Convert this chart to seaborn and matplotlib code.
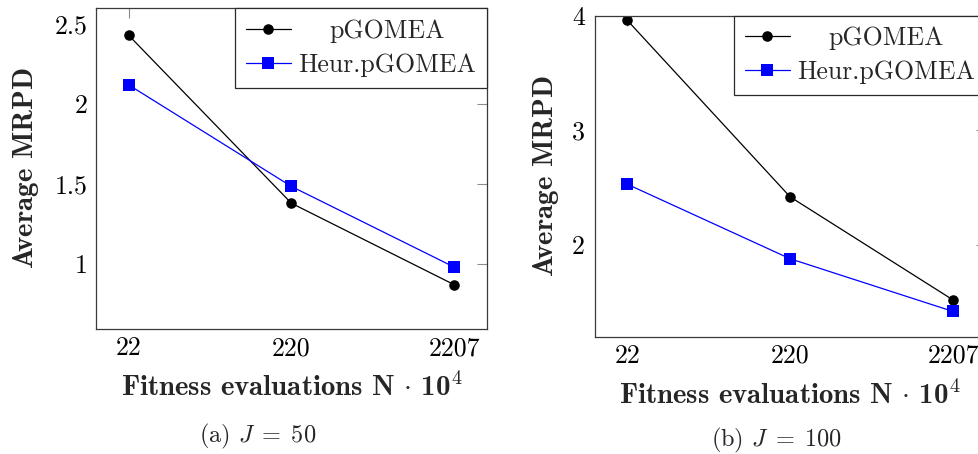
import matplotlib
matplotlib.use("Agg")
import matplotlib.pyplot as plt
from matplotlib.ticker import NullLocator, FixedLocator, FixedFormatter
import seaborn as sns
import pandas as pd

# Fitness evaluation budgets (N * 10^4)
evaluations = [22, 220, 2207]
eval_labels = ["22", "220", "2207"]
methods = ["pGOMEA", "Heur.pGOMEA"]

# Average MRPD, J = 50
pgomea_j50 = [2.43, 1.38, 0.87]
heur_j50 = [2.12, 1.485, 0.98]

# Average MRPD, J = 100
pgomea_j100 = [3.96, 2.42, 1.52]
heur_j100 = [2.53, 1.88, 1.42]

yticks_j50 = [1, 1.5, 2, 2.5]
ytick_labels_j50 = ["1", "1.5", "2", "2.5"]
yticks_j100 = [2, 3, 4]
ytick_labels_j100 = ["2", "3", "4"]

captions = [r"(a) $J\;=\;50$", r"(b) $J\;=\;100$"]

sns.set_style("white")
plt.rcParams["font.family"] = "cmr10"
plt.rcParams["mathtext.fontset"] = "cm"
plt.rcParams["axes.unicode_minus"] = False
plt.rcParams["axes.formatter.use_mathtext"] = True

FS = 18.6        # tick labels and legend
FS_BOLD = 20.8   # axis titles
W, H = 979, 454
fig = plt.figure(figsize=(W / 100, H / 100), dpi=100)

palette = {"pGOMEA": "black", "Heur.pGOMEA": "#0000ff"}
markers = {"pGOMEA": "o", "Heur.pGOMEA": "s"}


def panel(rect, pg, heur, yticks, ylabels, ylim, ylab_x, ytick_pad, xtick_pad):
    ax = fig.add_axes(rect)
    df = pd.DataFrame({
        "evals": evaluations * 2,
        "mrpd": pg + heur,
        "method": [methods[0]] * 3 + [methods[1]] * 3,
    })
    sns.lineplot(data=df, x="evals", y="mrpd", hue="method", style="method",
                 palette=palette, markers=markers, dashes=False,
                 markersize=7.6, markeredgewidth=0, linewidth=0.9,
                 sort=False, legend=False, ax=ax)
    # squares drawn a touch larger than the circles
    ax.get_lines()[1].set_markersize(8.2)

    ax.set_xscale("log")
    ax.set_xlim(evaluations[0] / 10 ** 0.2, evaluations[-1] * 10 ** 0.2)
    ax.xaxis.set_major_locator(FixedLocator(evaluations))
    ax.xaxis.set_major_formatter(FixedFormatter(eval_labels))
    ax.xaxis.set_minor_locator(NullLocator())
    ax.set_ylim(*ylim)
    ax.set_yticks(yticks)
    ax.set_yticklabels(ylabels)

    for s in ax.spines.values():
        s.set_visible(True)
        s.set_color("#3a3a3a")
        s.set_linewidth(0.9)
    ax.tick_params(direction="in", top=True, right=True, length=7.2,
                   width=0.8, color="#8c8c8c", labelsize=FS, labelcolor="black")
    ax.tick_params(axis="y", pad=ytick_pad)
    ax.tick_params(axis="x", pad=xtick_pad)

    ax.set_xlabel(r"Fitness evaluations N$\,\cdot\,$10$^{\mathbf{4}}$",
                  fontfamily="cmb10", fontsize=FS_BOLD, va="baseline")
    ax.xaxis.set_label_coords(0.5, -0.209)
    ax.set_ylabel(r"A$\!$verage MRPD", fontfamily="cmb10", fontsize=FS_BOLD,
                  va="baseline")
    ax.yaxis.set_label_coords(ylab_x, 0.5)

    handles = ax.get_lines()[:2]
    leg = ax.legend(handles, methods, loc="upper right", bbox_to_anchor=(1.0, 1.0),
                    borderaxespad=0.0, fontsize=FS, frameon=True, fancybox=False,
                    framealpha=1.0, edgecolor="#2a2a2a", handlelength=1.75,
                    handletextpad=0.28, labelspacing=0.4, borderpad=0.42)
    leg.get_frame().set_linewidth(0.9)
    return ax, leg


ax1, leg1 = panel([96 / W, (H - 329) / H, 391 / W, 321 / H],
                  pgomea_j50, heur_j50, yticks_j50, ytick_labels_j50,
                  (0.594, 2.6), -0.161, 5.8, 5.5)
ax2, leg2 = panel([594.7 / W, (H - 336.7) / H, 391 / W, 321 / H],
                  pgomea_j100, heur_j100, yticks_j100, ytick_labels_j100,
                  (1.2, 4.0), -0.1066, 7.0, 5.2)

fig.text(257.5 / W, 1 - 442 / H, captions[0], ha="center", va="baseline", fontsize=17.5)
fig.text(776.7 / W, 1 - 446 / H, captions[1], ha="center", va="baseline", fontsize=17.5)

# centre the shorter legend entry within the text column
fig.canvas.draw()
renderer = fig.canvas.get_renderer()
for leg in (leg1, leg2):
    t_short, t_long = leg.get_texts()
    w_short = t_short.get_window_extent(renderer).width
    w_long = t_long.get_window_extent(renderer).width
    t_short.set_x((w_long - w_short) / 2)

fig.savefig("out.png", dpi=100)
